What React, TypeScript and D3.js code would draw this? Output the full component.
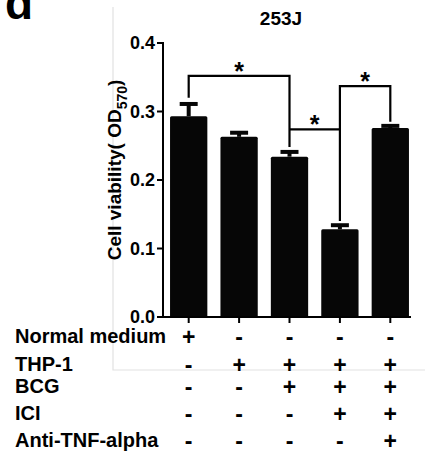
import React from 'react';
import * as d3 from 'd3';

// bar groups, means and SEM
const groups = ['g1', 'g2', 'g3', 'g4', 'g5'];
const means = [0.293, 0.263, 0.234, 0.128, 0.276];
const errors = [0.018, 0.006, 0.007, 0.006, 0.003];
const yTicks = [0.0, 0.1, 0.2, 0.3, 0.4];

// treatment table under the axis
const rowLabels = ['Normal medium', 'THP-1', 'BCG', 'ICI', 'Anti-TNF-alpha'];
const normalMedium = ['+', '-', '-', '-', '-'];
const thp1 = ['-', '+', '+', '+', '+'];
const bcg = ['-', '-', '+', '+', '+'];
const ici = ['-', '-', '-', '+', '+'];
const antiTnf = ['-', '-', '-', '-', '+'];
const signRows = [normalMedium, thp1, bcg, ici, antiTnf];
const rowY = [337, 365, 387, 414, 441];

// significance brackets: from bar a to bar b
const brackets = [
  { a: 0, b: 2, top: 0.352, leftEnd: 0.32, rightEnd: 0.248 },
  { a: 2, b: 3, top: 0.274, leftEnd: 0.274, rightEnd: 0.274 },
  { a: 3, b: 4, top: 0.337, leftEnd: 0.14, rightEnd: 0.285 },
];

const font = '"Liberation Sans", Arial, sans-serif';

export default function App() {
  const width = 425;
  const height = 453;
  const plotLeft = 165;
  const plotRight = 414;

  const x = d3.scaleBand().domain(groups).range([plotLeft, plotRight]).paddingInner(0.26).paddingOuter(0.1);
  const y = d3.scaleLinear().domain([0, 0.4]).range([317, 43]);
  const cx = (i: number) => (x(groups[i]) as number) + x.bandwidth() / 2;

  return (
    <svg width={width} height={height} style={{ position: 'absolute', left: 0, top: 0 }} fontFamily={font} fontWeight="bold">
      <rect width={width} height={height} fill="#fff" />
      {/* faint frame left over from the figure panel */}
      <path d={`M113,7 V370 H425`} fill="none" stroke="#e2e2e2" strokeWidth={1.2} />

      <text x={5} y={19} fontSize={46} fill="#000">d</text>
      <text x={281} y={25} fontSize={19} textAnchor="middle" fill="#000">253J</text>

      {/* bars */}
      {means.map((m, i) => (
        <rect key={i} x={x(groups[i])} y={y(m)} width={x.bandwidth()} height={y(0) - y(m)} fill="#060606" rx={1.5} />
      ))}
      {/* error bars */}
      {means.map((m, i) => (
        <g key={'e' + i} stroke="#060606" strokeWidth={4}>
          <line x1={cx(i)} x2={cx(i)} y1={y(m)} y2={y(m + errors[i])} />
          <line x1={cx(i) - 9} x2={cx(i) + 9} y1={y(m + errors[i])} y2={y(m + errors[i])} />
        </g>
      ))}

      {/* axes */}
      <line x1={plotLeft - 2} x2={plotLeft - 2} y1={y(0.4) - 1} y2={y(0)} stroke="#000" strokeWidth={2} />
      <line x1={plotLeft - 2} x2={plotRight - 3} y1={y(0)} y2={y(0)} stroke="#000" strokeWidth={2} />
      {yTicks.map((t) => (
        <g key={t}>
          <line x1={plotLeft - 8} x2={plotLeft - 2} y1={y(t)} y2={y(t)} stroke="#000" strokeWidth={2} />
          <text x={plotLeft - 10} y={y(t) + 6} fontSize={18} textAnchor="end" fill="#000">{t.toFixed(1)}</text>
        </g>
      ))}
      {groups.map((g, i) => (
        <line key={g} x1={cx(i)} x2={cx(i)} y1={y(0)} y2={y(0) + 6} stroke="#000" strokeWidth={2} />
      ))}

      <text transform={`translate(121,170) rotate(-90)`} fontSize={19} textAnchor="middle" fill="#000">
        Cell viability( OD<tspan dy={6} fontSize={14}>570</tspan><tspan dy={-6}>)</tspan>
      </text>

      {/* significance */}
      {brackets.map((b, i) => (
        <g key={'b' + i}>
          <path
            d={`M${cx(b.a)},${y(b.leftEnd)} V${y(b.top)} H${cx(b.b)} V${y(b.rightEnd)}`}
            fill="none" stroke="#000" strokeWidth={2.2}
          />
          <text x={(cx(b.a) + cx(b.b)) / 2} y={y(b.top) + 4} fontSize={25} textAnchor="middle" fill="#000">*</text>
        </g>
      ))}

      {/* treatment table */}
      {rowLabels.map((r, j) => (
        <g key={r}>
          <text x={15} y={rowY[j] + 6} fontSize={20} fill="#000">{r}</text>
          {signRows[j].map((s, i) => (
            <text key={i} x={cx(i)} y={rowY[j] + 8} fontSize={23} textAnchor="middle" fill="#000">{s}</text>
          ))}
        </g>
      ))}
    </svg>
  );
}
